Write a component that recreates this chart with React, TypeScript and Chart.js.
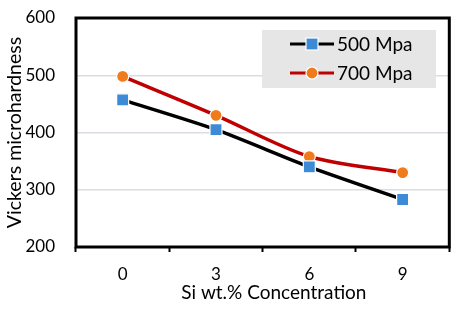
import React, { useEffect, useRef } from "react";
import { Chart, registerables } from "chart.js";

Chart.register(...registerables);

const categories = ["0", "3", "6", "9"];
const series500 = [457, 405, 340, 283];
const series700 = [498, 430, 358, 330];
const seriesLabels = ["500 Mpa", "700 Mpa"];
const yTitle = "Vickers microhardness";
const xTitle = "Si wt.% Concentration";
const FONT = "Lato, 'Liberation Sans', sans-serif";

const framePlugin = {
  id: "frame",
  beforeDatasetsDraw(chart: any) {
    const { ctx, chartArea: a } = chart;
    ctx.save();
    ctx.strokeStyle = "#000";
    ctx.lineWidth = 3;
    ctx.strokeRect(a.left, a.top, a.right - a.left, a.bottom - a.top);
    ctx.restore();
  },
  afterDraw(chart: any) {
    const { ctx, chartArea: a } = chart;
    ctx.save();
    // x title
    ctx.fillStyle = "#000";
    ctx.font = `19px ${FONT}`;
    ctx.textAlign = "center";
    ctx.textBaseline = "middle";
    ctx.fillText(xTitle, a.left + (a.right - a.left) * 0.53, 293);
    // legend
    const bx = 262, by = 30, bw = 174, bh = 58;
    ctx.fillStyle = "#e6e6e6";
    ctx.fillRect(bx, by, bw, bh);
    chart.data.datasets.forEach((ds: any, i: number) => {
      const y = 44 + i * 29;
      ctx.strokeStyle = ds.borderColor;
      ctx.lineWidth = 3;
      ctx.beginPath();
      ctx.moveTo(290, y);
      ctx.lineTo(334, y);
      ctx.stroke();
      ctx.fillStyle = ds.pointBackgroundColor;
      ctx.strokeStyle = "#fff";
      ctx.lineWidth = 1.2;
      if (ds.pointStyle === "rect") {
        ctx.fillRect(306, y - 6, 12, 12);
        ctx.strokeRect(306, y - 6, 12, 12);
      } else {
        ctx.beginPath();
        ctx.arc(312, y, 6, 0, Math.PI * 2);
        ctx.fill();
        ctx.stroke();
      }
      ctx.fillStyle = "#000";
      ctx.font = `19px ${FONT}`;
      ctx.textAlign = "left";
      ctx.textBaseline = "middle";
      ctx.fillText(ds.label, 337, y + 1);
    });
    ctx.restore();
  },
};

export default function App() {
  const ref = useRef<HTMLCanvasElement>(null);
  useEffect(() => {
    document.body.style.margin = "0";
    const chart = new Chart(ref.current!, {
      type: "line",
      data: {
        labels: categories,
        datasets: [
          {
            label: seriesLabels[0],
            data: series500,
            borderColor: "#000000",
            borderWidth: 3.5,
            pointStyle: "rect",
            pointRadius: 8.5,
            pointBackgroundColor: "#3d8bd6",
            pointBorderColor: "#ffffff",
            pointBorderWidth: 1.2,
            tension: 0.25,
          },
          {
            label: seriesLabels[1],
            data: series700,
            borderColor: "#c00000",
            borderWidth: 3.5,
            pointStyle: "circle",
            pointRadius: 6,
            pointBackgroundColor: "#f07b1c",
            pointBorderColor: "#ffffff",
            pointBorderWidth: 1.2,
            tension: 0.3,
          },
        ],
      },
      options: {
        animation: false,
        responsive: false,
        layout: { padding: { left: 0, top: 18, right: 8, bottom: 0 } },
        plugins: { legend: { display: false }, tooltip: { enabled: false } },
        scales: {
          x: {
            offset: true,
            border: { display: false },
            grid: {
              offset: true,
              drawOnChartArea: false,
              drawTicks: true,
              tickLength: 5,
              tickColor: "#000",
              tickWidth: 2,
            },
            ticks: { color: "#000", font: { family: FONT, size: 17 }, padding: 12 },
            afterFit: (s: any) => {
              s.height = 65;
            },
          },
          y: {
            min: 200,
            max: 600,
            border: { display: false },
            grid: { color: "#d9dde3", lineWidth: 1.5, drawTicks: false },
            ticks: { stepSize: 100, color: "#000", font: { family: FONT, size: 17 }, padding: 21 },
            title: {
              display: true,
              text: yTitle,
              color: "#000",
              font: { family: FONT, size: 19.5 },
              padding: { top: 3, bottom: 0 },
            },
            afterFit: (s: any) => {
              s.width = 76;
              s.paddingTop = 0;
              s.paddingBottom = 0;
            },
          },
        },
      },
      plugins: [framePlugin],
    });
    return () => chart.destroy();
  }, []);
  return <canvas ref={ref} width={459} height={312} style={{ display: "block" }} />;
}
